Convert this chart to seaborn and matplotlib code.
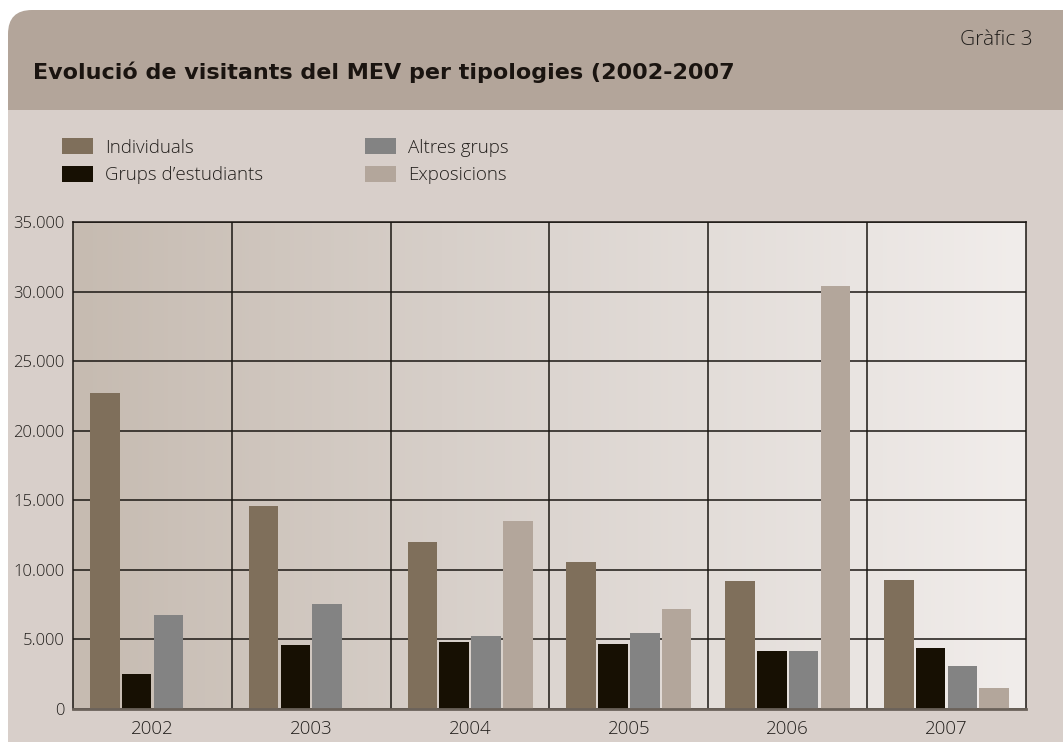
import numpy as np
import pandas as pd
import matplotlib
matplotlib.use("Agg")
import matplotlib.pyplot as plt
from matplotlib.patches import FancyBboxPatch, Rectangle
from matplotlib.colors import LinearSegmentedColormap
from matplotlib.ticker import FuncFormatter, FixedLocator, MultipleLocator
import seaborn as sns

# data
anys = ["2002", "2003", "2004", "2005", "2006", "2007"]
tipologies = ["Individuals", "Grups d’estudiants", "Altres grups", "Exposicions"]
individuals = [22700, 14600, 12000, 10570, 9200, 9270]
estudiants = [2520, 4600, 4820, 4670, 4170, 4390]
altres = [6760, 7550, 5250, 5460, 4170, 3090]
exposicions = [0, 0, 13500, 7190, 30400, 1510]
colors = ["#7f6f5b", "#171003", "#838383", "#b3a69b"]

df = pd.DataFrame({
    "any": anys * 4,
    "tipologia": np.repeat(tipologies, len(anys)),
    "visitants": individuals + estudiants + altres + exposicions,
})

sns.set_style("white")
plt.rcParams["font.family"] = ["Liberation Sans", "DejaVu Sans"]
light_font = ["Open Sans", "DejaVu Sans"]
light = dict(family=light_font, weight="light", color="#221f1c")

W, H = 1063, 742
fig = plt.figure(figsize=(W / 100, H / 100), dpi=100, facecolor="white")

# background panel, title band, plot gradient (pixel coordinates)
bg = fig.add_axes([0, 0, 1, 1], zorder=-10)
bg.axis("off")
bg.add_patch(FancyBboxPatch((8, 10), 1300, 300, boxstyle="round,pad=0,rounding_size=24",
                            fc="#b3a59a", ec="none", zorder=1))
bg.add_patch(Rectangle((8, 110), 1300, 700, fc="#d8cfca", ec="none", zorder=1))
grad = LinearSegmentedColormap.from_list("g", ["#c6bbb1", "#dcd5d0", "#f1edeb"])
bg.imshow(np.linspace(0, 1, 256)[None, :], cmap=grad, extent=(73, 1026, 709, 222),
          aspect="auto", interpolation="bicubic", zorder=2)
bg.set_xlim(0, W)
bg.set_ylim(H, 0)

ax = fig.add_axes([73 / W, 1 - 709 / H, (1026 - 73) / W, (709 - 222) / H])
ax.set_facecolor("none")
sns.barplot(data=df, x="any", y="visitants", hue="tipologia", hue_order=tipologies,
            palette=colors, saturation=1, width=0.8, gap=0.07, edgecolor="none",
            linewidth=0, ax=ax)

ax.set_xlim(-0.5, 5.5)
ax.set_ylim(0, 35000)
ax.yaxis.set_major_locator(MultipleLocator(5000))
ax.yaxis.set_major_formatter(FuncFormatter(lambda v, p: f"{int(v):,}".replace(",", ".")))
ax.xaxis.set_minor_locator(FixedLocator([0.5, 1.5, 2.5, 3.5, 4.5]))
ax.set_axisbelow(True)
ax.grid(True, axis="y", which="major", color="#1b1713", lw=1.1)
ax.grid(True, axis="x", which="minor", color="#1b1713", lw=1.1)
ax.tick_params(which="both", length=0)
ax.tick_params(axis="y", pad=6)
ax.tick_params(axis="x", pad=8)
for lab in ax.get_yticklabels():
    lab.set(fontsize=12, **light)
for lab in ax.get_xticklabels():
    lab.set(fontsize=13.5, **light)
ax.set_xlabel("")
ax.set_ylabel("")
for side in ["left", "top", "right"]:
    ax.spines[side].set(color="#1b1713", lw=1.1)
ax.spines["bottom"].set(color="#6b625a", lw=2)

# legend in two columns
handles, labels = ax.get_legend_handles_labels()
ax.legend_.remove()
leg_kw = dict(loc="upper left", frameon=False, borderpad=0, borderaxespad=0,
              handlelength=1.65, handleheight=0.95, handletextpad=0.65, labelspacing=0.5,
              prop={"family": light_font, "weight": "light", "size": 13.5})
leg1 = fig.legend(handles[:2], labels[:2], bbox_to_anchor=(62 / W, 1 - 138 / H), **leg_kw)
leg2 = fig.legend(handles[2:], labels[2:], bbox_to_anchor=(365 / W, 1 - 138 / H), **leg_kw)
for leg in (leg1, leg2):
    for t in leg.get_texts():
        t.set_color("#221f1c")

fig.text(33 / W, 1 - 72 / H, "Evolució de visitants del MEV per tipologies (2002-2007",
         fontsize=16, weight="bold", va="center", color="#1a1410",
         family=["DejaVu Sans"])
fig.text(1033 / W, 1 - 40 / H, "Gràfic 3", ha="right", va="center", **light, fontsize=15)

fig.savefig("out.png", dpi=100, facecolor="white")
